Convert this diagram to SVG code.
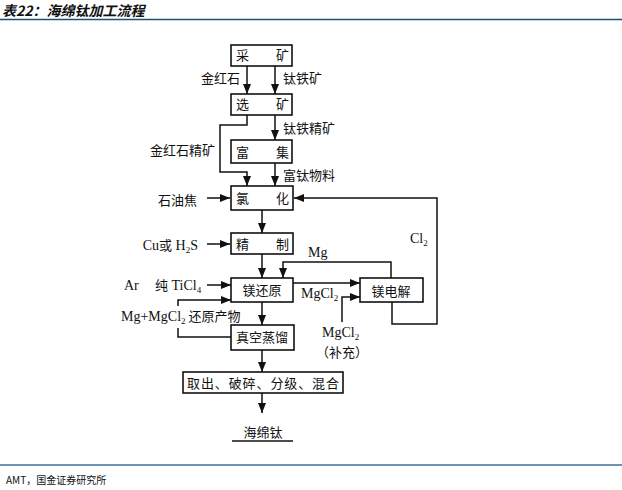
<svg xmlns="http://www.w3.org/2000/svg" width="622" height="490" viewBox="0 0 622 490">
<style>
.cn{font-family:"Noto Sans CJK SC","Noto Sans",sans-serif;font-size:13px;fill:#111;}
.lt{font-family:"Liberation Serif","Noto Sans CJK SC",serif;font-size:14px;fill:#111;}
.box{fill:#fff;stroke:#111;stroke-width:1.6;}
.ln{fill:none;stroke:#111;stroke-width:1.5;}
.ar{marker-end:url(#a);}
.mid{text-anchor:middle;}
.end{text-anchor:end;}
</style>
<defs>
<marker id="a" markerWidth="10" markerHeight="8" refX="10" refY="4" orient="auto" markerUnits="userSpaceOnUse"><path d="M0,0 L10,4 L0,8 Z" fill="#111"/></marker>
</defs>
<rect width="622" height="490" fill="#fff"/>
<g id="header">
<text x="2" y="16" font-family="'Noto Sans CJK SC',sans-serif" font-size="14" font-style="italic" font-weight="bold" fill="#111">表22：海绵钛加工流程</text>
<line x1="0" y1="19.5" x2="622" y2="19.5" stroke="#1f4e79" stroke-width="1.5"/>
</g>
<g id="connectors">
<path class="ln ar" d="M247,66 V94"/>
<path class="ln ar" d="M275,66 V94"/>
<path class="ln ar" d="M247,115 V125 H220 V172 H247 V186"/>
<path class="ln ar" d="M275,115 V140"/>
<path class="ln ar" d="M275,163 V186"/>
<path class="ln ar" d="M207,198 H230"/>
<path class="ln ar" d="M392,302 V324 H437 V198 H294"/>
<path class="ln ar" d="M262,210 V233"/>
<path class="ln ar" d="M207,244 H230"/>
<path class="ln ar" d="M262,254 V278"/>
<path class="ln ar" d="M391,278 V262 H283 V278"/>
<path class="ln ar" d="M207,285 H231"/>
<path class="ln ar" d="M178,306 V300 H231"/>
<path class="ln" d="M232,337 H178 V328"/>
<path class="ln ar" d="M262,302 V325"/>
<path class="ln ar" d="M293,283 H360"/>
<path class="ln ar" d="M342,322 V297 H360"/>
<path class="ln ar" d="M262,350 V372"/>
<path class="ln ar" d="M262,393 V413"/>
</g>
<g id="n-caikuang"><rect class="box" x="231" y="45" width="61" height="21"/><text class="cn" x="236 276" y="60">采矿</text></g>
<g id="n-xuankuang"><rect class="box" x="231" y="94" width="61" height="21"/><text class="cn" x="236 276" y="109">选矿</text></g>
<g id="n-fuji"><rect class="box" x="231" y="140" width="61" height="23"/><text class="cn" x="236 276" y="157">富集</text></g>
<g id="n-lvhua"><rect class="box" x="231" y="186" width="62" height="24"/><text class="cn" x="236 276" y="203">氯化</text></g>
<g id="n-jingzhi"><rect class="box" x="231" y="233" width="62" height="21"/><text class="cn" x="236 276" y="249">精制</text></g>
<g id="n-meihuanyuan"><rect class="box" x="231" y="278" width="62" height="24"/><text class="cn mid" x="262" y="295">镁还原</text></g>
<g id="n-meidianjie"><rect class="box" x="360" y="278" width="63" height="24"/><text class="cn mid" x="391" y="296">镁电解</text></g>
<g id="n-zhenkong"><rect class="box" x="231" y="325" width="63" height="25"/><text class="cn mid" x="262" y="342">真空蒸馏</text></g>
<g id="n-quchu"><rect class="box" x="183" y="372" width="160" height="21"/><text class="cn mid" x="263" y="388" textLength="152">取出、破碎、分级、混合</text></g>
<g id="n-haimiantai"><text class="cn mid" x="263" y="437">海绵钛</text><line x1="232" y1="441" x2="293" y2="441" stroke="#111" stroke-width="1.5"/></g>
<g id="labels">
<text class="cn end" x="240" y="83">金红石</text>
<text class="cn" x="283" y="83">钛铁矿</text>
<text class="cn" x="283" y="133">钛铁精矿</text>
<text class="cn" x="150" y="155">金红石精矿</text>
<text class="cn" x="283" y="180">富钛物料</text>
<text class="cn end" x="197" y="205">石油焦</text>
<text class="lt end" x="198" y="250">Cu<tspan class="cn" font-size="13">或</tspan> H<tspan font-size="9" dy="3">2</tspan><tspan dy="-3">S</tspan></text>
<text class="lt" x="308" y="257">Mg</text>
<text class="lt" x="410" y="243">Cl<tspan font-size="9" dy="3">2</tspan></text>
<text class="lt" x="124" y="290">Ar</text>
<text class="lt" x="155" y="290"><tspan class="cn" font-size="13">纯</tspan> TiCl<tspan font-size="9" dy="3">4</tspan></text>
<text class="lt" x="301" y="298">MgCl<tspan font-size="9" dy="3">2</tspan></text>
<text class="lt" x="121" y="321">Mg+MgCl<tspan font-size="9" dy="3">2</tspan><tspan class="cn" font-size="13" dy="-3"> 还原产物</tspan></text>
<text class="lt" x="322" y="337">MgCl<tspan font-size="9" dy="3">2</tspan></text>
<text class="cn" x="316" y="357">（补充）</text>
</g>
<g id="footer">
<line x1="0" y1="465" x2="622" y2="465" stroke="#3c6e98" stroke-width="1.5"/>
<text x="6" y="484" font-family="'Noto Sans CJK SC',sans-serif" font-size="10" fill="#111">AMT，国金证券研究所</text>
</g>
</svg>
